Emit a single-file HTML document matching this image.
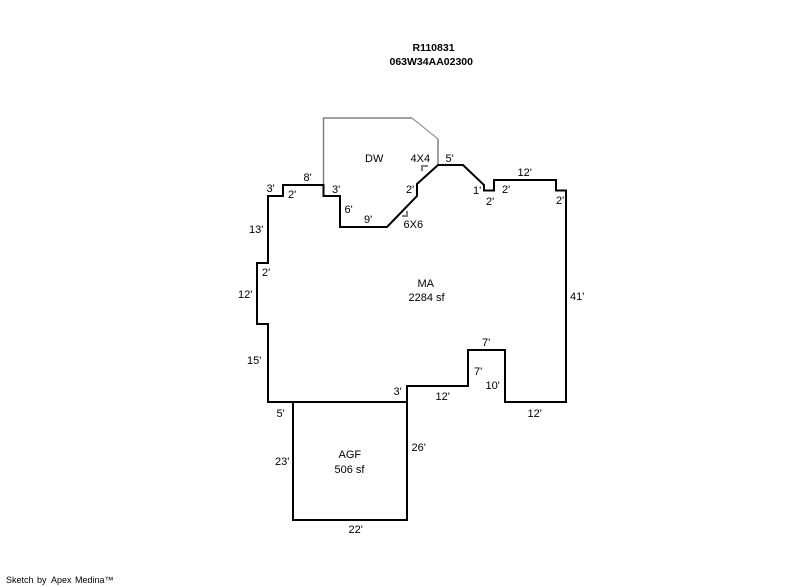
<!DOCTYPE html>
<html>
<head>
<meta charset="utf-8">
<style>
html,body{margin:0;padding:0;background:#fff;width:800px;height:587px;overflow:hidden}
svg{display:block}
text{font-family:"Liberation Sans",Arial,sans-serif;font-size:11px;fill:#000}
</style>
</head>
<body>
<svg width="800" height="587" viewBox="0 0 800 587" xmlns="http://www.w3.org/2000/svg">
<rect width="800" height="587" fill="#fff"/>
<path d="M323.5,185V118H412" fill="none" stroke="#808080" stroke-width="1.5"/>
<path d="M412,118L438,139" fill="none" stroke="#808080" stroke-width="1"/>
<path d="M438,139V165" fill="none" stroke="#808080" stroke-width="1.5"/>
<path d="M422,171V166H428M402,216H407V211" fill="none" stroke="#808080" stroke-width="2"/>
<path d="M268,402V324H257V263H268V196H283V185H323.5V196H340V227H387L417,196V184L438,165H463L484,185V190.5H494V180H556V190.5H566V402H505V350H468V386H407V402Z" fill="none" stroke="#000" stroke-width="2"/>
<path d="M293,402V520H407V402" fill="none" stroke="#000" stroke-width="2"/>
<text x="412.5" y="51" style="font-size:10.5px;font-weight:bold">R110831</text>
<text x="389.5" y="65" style="font-size:10.5px;font-weight:bold">063W34AA02300</text>
<text x="365" y="162">DW</text>
<text x="410.5" y="162">4X4</text>
<text x="445.5" y="162">5'</text>
<text x="303.5" y="181">8'</text>
<text x="266.5" y="192">3'</text>
<text x="288" y="198">2'</text>
<text x="332" y="193">3'</text>
<text x="406" y="193">2'</text>
<text x="344.5" y="213">6'</text>
<text x="364" y="223">9'</text>
<text x="403.5" y="228">6X6</text>
<text x="249" y="233">13'</text>
<text x="473" y="194">1'</text>
<text x="486" y="205">2'</text>
<text x="502" y="193">2'</text>
<text x="517.5" y="176">12'</text>
<text x="556" y="204">2'</text>
<text x="262" y="276">2'</text>
<text x="238" y="298">12'</text>
<text x="417.5" y="287">MA</text>
<text x="408.5" y="301">2284 sf</text>
<text x="570" y="300">41'</text>
<text x="482" y="346">7'</text>
<text x="474" y="375">7'</text>
<text x="485.5" y="389">10'</text>
<text x="393.5" y="395">3'</text>
<text x="435.5" y="400">12'</text>
<text x="247" y="364">15'</text>
<text x="276.5" y="417">5'</text>
<text x="527.5" y="417">12'</text>
<text x="275" y="465">23'</text>
<text x="411.5" y="451">26'</text>
<text x="338.5" y="458">AGF</text>
<text x="334.5" y="473">506 sf</text>
<text x="348.5" y="533">22'</text>
<text x="6" y="583" style="font-size:9px">Sketch</text>
<text x="37" y="583" style="font-size:9px">by</text>
<text x="51" y="583" style="font-size:9px">Apex</text>
<text x="75" y="583" style="font-size:9px">Medina™</text>
</svg>
</body>
</html>
